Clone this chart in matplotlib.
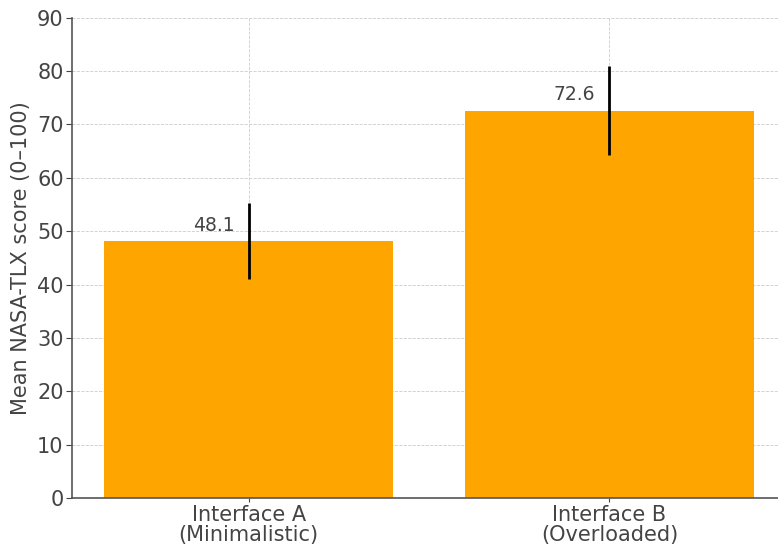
#!/usr/bin/env python

import numpy as np
import matplotlib
matplotlib.use("Agg")
import matplotlib.pyplot as plt

'''Chart data'''
interfaces = ["Interface A\n(Minimalistic)", "Interface B\n(Overloaded)"]
mean_scores = [48.1, 72.6]
sd_scores = [7.1, 8.4]
y_ticks = [0, 10, 20, 30, 40, 50, 60, 70, 80, 90]

fig = plt.figure(figsize=(7.78, 5.47), dpi=100)
# axes runs a little past the right edge, as in the cropped original
ax = fig.add_axes([0.0925, 0.0896, 0.918, 0.878])

x = np.arange(len(interfaces))
ax.bar(x, mean_scores, width=0.8, color="#FFA500", zorder=2)
ax.errorbar(x, mean_scores, yerr=sd_scores, fmt="none", ecolor="black",
            elinewidth=2, capsize=0, zorder=3)

for xi, m in zip(x, mean_scores):
	ax.text(xi - 0.04, m + 3, f"{m:.1f}", ha="right", va="center",
	        fontsize=13.5, color="#444444", zorder=4)

ax.set_xticks(x)
ax.set_xticklabels(interfaces, fontsize=15, color="#444444", linespacing=1.0)
ax.set_yticks(y_ticks)
ax.tick_params(axis="y", labelsize=15, colors="#444444", length=4, pad=2)
ax.tick_params(axis="x", colors="#444444", length=3, pad=2)
ax.set_ylim(0, 90)
ax.set_ylabel("Mean NASA-TLX score (0\u2013100)", fontsize=15, color="#444444",
              labelpad=4)

ax.grid(True, linestyle="--", color="#cccccc", linewidth=0.6, zorder=0)
ax.set_axisbelow(True)
for side in ["top", "right"]:
	ax.spines[side].set_visible(False)
for side in ["left", "bottom"]:
	ax.spines[side].set_color("#555555")
	ax.spines[side].set_linewidth(1.2)

fig.savefig("out.png", dpi=100)
